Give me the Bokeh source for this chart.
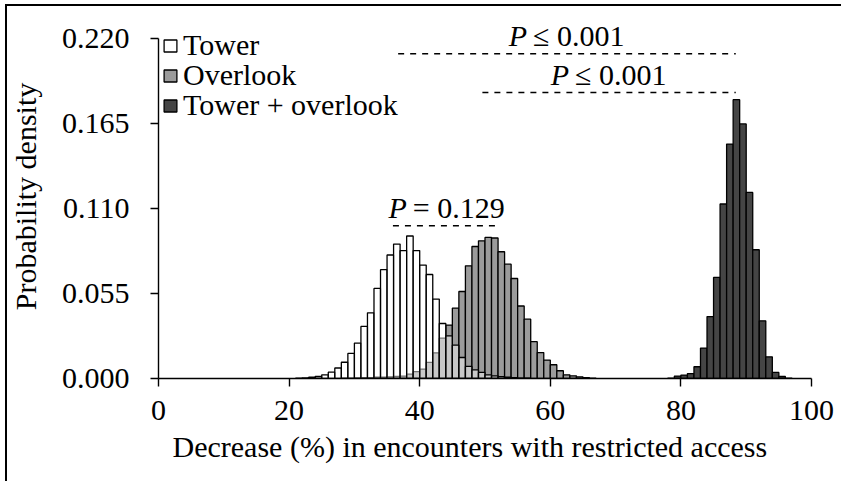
from bokeh.plotting import figure
from bokeh.models import (ColumnDataSource, Legend, LegendItem, FixedTicker,
                          PrintfTickFormatter, Range1d, Title)
from bokeh.core.properties import value
from bokeh.embed import file_html
from bokeh.resources import INLINE

# ---------------- data (1 % bins, left edges given by *_start) ----------------
tower_start = 21
tower_density = [0.0002, 0.0004, 0.0008, 0.0013, 0.0024, 0.0041, 0.0068, 0.0105,
                 0.0162, 0.0229, 0.0337, 0.0425, 0.0583, 0.0704, 0.0799, 0.0870,
                 0.0828, 0.0922, 0.0828, 0.0734, 0.0673, 0.0514, 0.0356, 0.0276,
                 0.0216, 0.0136, 0.0078, 0.0056, 0.0039, 0.0024, 0.0017, 0.0012,
                 0.0008, 0.0005, 0.0003, 0.0002]

overlook_start = 28
overlook_density = [0.0002, 0.0003, 0.0004, 0.0005, 0.0006, 0.0008, 0.0009, 0.0011,
                    0.0014, 0.0016, 0.0028, 0.0045, 0.0061, 0.0104, 0.0166, 0.0261,
                    0.0346, 0.0456, 0.0563, 0.0729, 0.0854, 0.0891, 0.0913, 0.0909,
                    0.0820, 0.0740, 0.0647, 0.0469, 0.0384, 0.0238, 0.0168, 0.0119,
                    0.0089, 0.0050, 0.0024, 0.0017, 0.0011, 0.0005, 0.0002]

both_start = 78
both_density = [0.0003, 0.0016, 0.0022, 0.0032, 0.0076, 0.0197, 0.0401, 0.0654,
                0.1129, 0.1517, 0.1804, 0.1647, 0.1204, 0.0833, 0.0373, 0.0140,
                0.0039, 0.0013, 0.0003]

series_names = ["Tower", "Overlook", "Tower + overlook"]

# significance brackets
bracket_x0 = [36.7, 49.6, 35.9]
bracket_x1 = [88.4, 88.4, 52.4]
bracket_y = [0.2102, 0.1850, 0.0988]
bracket_op = ["\u2264 0.001", "\u2264 0.001", "= 0.129"]

x_ticks = [0, 20, 40, 60, 80, 100]
y_ticks = [0.0, 0.055, 0.110, 0.165, 0.220]

x_title = "Decrease (%) in encounters with restricted access"
y_title = "Probability density"

FONT = "Liberation Serif"
FS = "30px"

# layout (pixels)
W, H = 836, 477
B_LEFT, B_RIGHT, B_TOP, B_BOTTOM = 149, 30, 10, 103
AXIS_PX = 340            # pixel height of the 0 .. 0.220 part of the axis
frame_h = H - B_TOP - B_BOTTOM
y_end = y_ticks[-1] * frame_h / AXIS_PX


def bins(start, dens):
    left = [start + i for i in range(len(dens))]
    right = [l + 1 for l in left]
    return ColumnDataSource(dict(left=left, right=right, top=dens,
                                 bottom=[0] * len(dens)))


p = figure(width=W, height=H, output_backend="svg", toolbar_location=None,
           x_range=Range1d(0, 100), y_range=Range1d(0, y_end),
           min_border_left=B_LEFT, min_border_right=B_RIGHT,
           min_border_top=B_TOP, min_border_bottom=B_BOTTOM)
p.styles = {"margin-left": "5px", "margin-top": "4px",
            "box-shadow": "inset 2px 2px 0 0 black"}
p.border_fill_color = None
p.outline_line_color = None
p.grid.visible = False

src_o = bins(overlook_start, overlook_density)
src_t = bins(tower_start, tower_density)
src_b = bins(both_start, both_density)

r_o = p.quad(left="left", right="right", top="top", bottom="bottom", source=src_o,
             fill_color="#9b9b9b", line_color="black", line_width=1.3)
r_t = p.quad(left="left", right="right", top="top", bottom="bottom", source=src_t,
             fill_color="white", fill_alpha=0.45, line_color="black", line_width=1.3)
r_b = p.quad(left="left", right="right", top="top", bottom="bottom", source=src_b,
             fill_color="#454545", line_color="black", line_width=1.3)

# brackets
mid = [(a + b) / 2 for a, b in zip(bracket_x0, bracket_x1)]
br = ColumnDataSource(dict(x0=bracket_x0, x1=bracket_x1, y=bracket_y, mid=mid,
                           op=bracket_op, p=["P"] * 3))
p.segment(x0="x0", y0="y", x1="x1", y1="y", source=br, line_color="black",
          line_width=1.5, line_dash="6 6")
p.text(x="mid", y="y", text="p", source=br, text_font=value(FONT),
       text_font_size=FS, text_font_style="italic", text_align="right",
       text_baseline="alphabetic", x_offset=-40, y_offset=-18, text_color="black")
p.text(x="mid", y="y", text="op", source=br, text_font=value(FONT),
       text_font_size=FS, text_align="left",
       text_baseline="alphabetic", x_offset=-34, y_offset=-18, text_color="black")

# axes
for ax in (p.xaxis[0], p.yaxis[0]):
    ax.axis_line_width = 1.4
    ax.major_tick_line_width = 1.4
    ax.major_tick_out = 8
    ax.major_tick_in = 0
    ax.minor_tick_out = 0
    ax.minor_tick_in = 0
    ax.major_label_text_font = FONT
    ax.major_label_text_font_size = FS
    ax.major_label_text_color = "black"
    ax.axis_label_text_font = FONT
    ax.axis_label_text_font_size = FS
    ax.axis_label_text_font_style = "normal"
    ax.axis_label_text_color = "black"
    ax.axis_line_color = "black"
    ax.major_tick_line_color = "black"

p.yaxis.bounds = (y_ticks[0], y_ticks[-1])
p.xaxis.ticker = FixedTicker(ticks=x_ticks)
p.yaxis.ticker = FixedTicker(ticks=y_ticks)
p.yaxis.formatter = PrintfTickFormatter(format="%.3f")
p.yaxis.axis_label = y_title
p.xaxis.major_label_standoff = 14
p.yaxis.major_label_standoff = 21
p.yaxis.axis_label_standoff = 17

# x-axis title as a below-title so that it can sit slightly left of centre
p.add_layout(Title(text=x_title, align="left", offset=14, standoff=10,
                   text_font=FONT, text_font_size=FS, text_font_style="normal",
                   text_color="black"), "below")

# legend: one single-row legend per series so the row pitch can be set freely
legend_vy = [316, 286, 256]
for name, rend, vy in zip(series_names, [r_t, r_o, r_b], legend_vy):
    lg = Legend(items=[LegendItem(label=name, renderers=[rend])],
                location=(4, vy), margin=0, padding=0, spacing=0,
                glyph_width=16, glyph_height=15, label_standoff=5,
                label_text_font=FONT, label_text_font_size=FS,
                label_text_color="black",
                label_text_baseline="alphabetic",
                border_line_color=None, background_fill_alpha=0)
    p.add_layout(lg, "center")

open("out.html", "w").write(file_html(p, INLINE))
